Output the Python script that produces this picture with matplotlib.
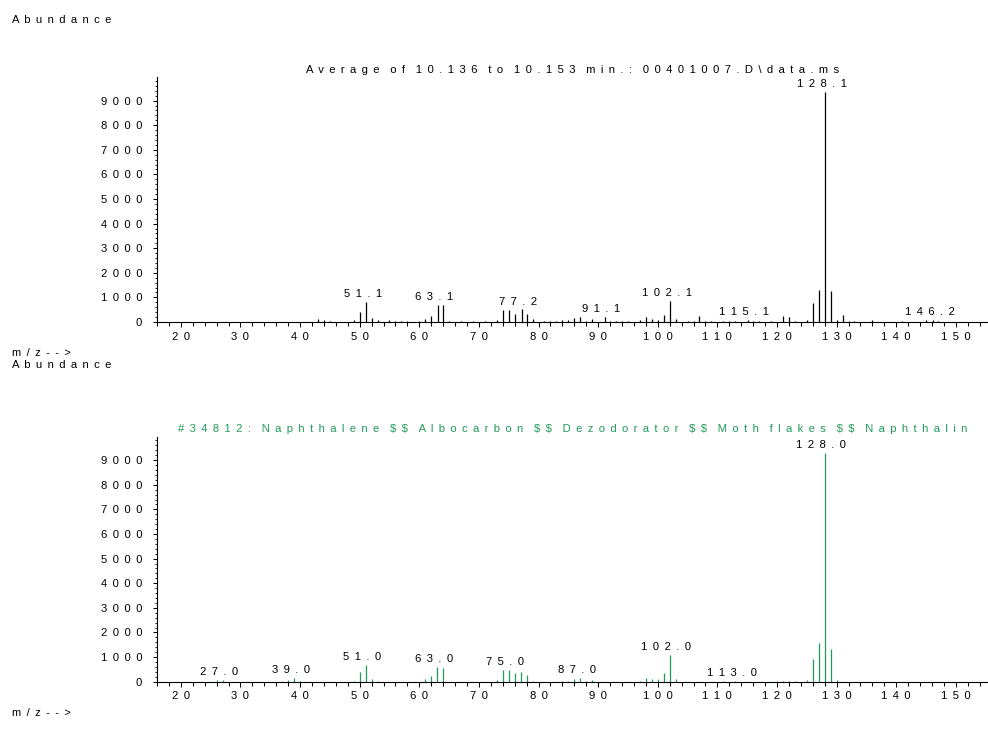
import matplotlib
matplotlib.use("Agg")
import matplotlib.pyplot as plt
from matplotlib.ticker import MultipleLocator, FuncFormatter

plt.rcParams['font.family'] = ['Liberation Sans', 'DejaVu Sans']
plt.rcParams['font.size'] = 8.1

# wide letter spacing of the instrument printout
GAP = ' \u2009'


def spaced(s):
    return (GAP * 2).join(GAP.join(w) for w in s.split(' '))


# averaged scan 10.136 - 10.153 min
scan_mz = [43, 44, 45, 49, 50, 51.1, 52, 53, 55, 56, 57, 58, 60, 61, 62, 63.1, 64, 65,
           67, 69, 71, 73, 74, 75, 76, 77.2, 78, 79, 81, 82, 83, 84, 85, 86, 87, 88,
           89, 91.1, 92, 93, 94, 95, 97, 98, 99, 100, 101, 102.1, 103, 105, 106, 107,
           108, 109, 111, 112, 113, 115.1, 116, 117, 119, 121, 122, 123, 125, 126, 127,
           128.1, 129, 130, 131, 132, 133, 136, 141, 145, 146.2, 147]
scan_ab = [140, 70, 50, 100, 410, 830, 160, 100, 80, 50, 50, 40, 40, 140, 245, 710, 680, 55,
           50, 50, 40, 95, 500, 490, 340, 517, 330, 140, 60, 50, 40, 70, 100, 180, 190, 60,
           110, 200, 40, 40, 40, 30, 80, 190, 110, 80, 270, 870, 120, 30, 40, 260,
           60, 40, 40, 40, 50, 100, 50, 50, 40, 260, 220, 50, 95, 790, 1290,
           9350, 1250, 95, 285, 40, 30, 95, 40, 95, 95, 40]
scan_labels = [51.1, 63.1, 77.2, 91.1, 102.1, 115.1, 128.1, 146.2]
scan_title = r"Average of 10.136 to 10.153 min.: 00401007.D\data.ms"

# library hit
lib_mz = [26, 27, 37, 38, 39, 40, 49, 50, 51, 52, 53, 61, 62, 63, 64, 73, 74, 75, 76, 77,
          78, 79, 84, 85, 86, 87, 88, 89, 97, 98, 99, 100, 101, 102, 103, 111, 113, 120,
          121, 122, 123, 125, 126, 127, 128, 129, 130]
lib_ab = [50, 60, 30, 55, 165, 40, 30, 380, 680, 110, 30, 120, 230, 600, 560, 70, 460, 490,
          350, 390, 285, 40, 30, 40, 110, 150, 40, 80, 30, 160, 95, 95, 340, 1090, 110,
          20, 30, 20, 20, 30, 20, 70, 920, 1580, 9310, 1345, 55]
lib_labels = [27, 39, 51, 63, 75, 87, 102, 113, 128]
lib_title = "#34812: Naphthalene $$ Albocarbon $$ Dezodorator $$ Moth flakes $$ Naphthalin"

GREEN = '#1f9b5b'

W, H = 988, 729
fig = plt.figure(figsize=(W / 100, H / 100), dpi=100)
ax1 = fig.add_axes([157 / W, 1 - 322 / H, 831 / W, 245 / H])
ax2 = fig.add_axes([157 / W, 1 - 681.7 / H, 831 / W, 245.2 / H])


def setup(ax):
    ax.spines['top'].set_visible(False)
    ax.spines['right'].set_visible(False)
    for sp in ('left', 'bottom'):
        ax.spines[sp].set_linewidth(0.8)
    ax.set_xlim(16, 155.4)
    ax.set_ylim(0, 9960)
    ax.xaxis.set_major_locator(MultipleLocator(10))
    ax.xaxis.set_minor_locator(MultipleLocator(2))
    ax.yaxis.set_major_locator(MultipleLocator(1000))
    ax.yaxis.set_minor_locator(MultipleLocator(200))
    fmt = FuncFormatter(lambda v, p: spaced(str(int(round(v)))))
    ax.xaxis.set_major_formatter(fmt)
    ax.yaxis.set_major_formatter(fmt)
    ax.tick_params(axis='x', which='major', direction='out', length=3.4, width=0.75, pad=3.5)
    ax.tick_params(axis='x', which='minor', direction='out', length=3.0, width=0.75)
    ax.tick_params(axis='y', which='major', direction='out', length=2.6, width=0.75, pad=8)
    ax.tick_params(axis='y', which='minor', direction='out', length=1.4, width=0.6)
    ax.patch.set_visible(False)


def draw(ax, mz, ab, labels, color, title, title_color):
    setup(ax)
    ax.vlines(mz, 0, ab, color=color, linewidth=0.9, snap=True)
    for m in labels:
        i = mz.index(m)
        ax.annotate(spaced(f"{m:.1f}"), (mz[i], ab[i]), xytext=(-2.5, 2),
                    textcoords='offset points', ha='center', va='bottom', color='black')
    ax.annotate(spaced(title), (0.5, 1.0), xycoords='axes fraction', xytext=(0, 1.5),
                textcoords='offset points', ha='center', va='bottom', color=title_color,
                parse_math=False)


draw(ax1, scan_mz, scan_ab, scan_labels, 'black', scan_title, 'black')
draw(ax2, lib_mz, lib_ab, lib_labels, GREEN, lib_title, GREEN)

fig.text(12 / W, 1 - 20 / H, spaced("Abundance"), ha='left', va='center')
fig.text(12 / W, 1 - 353 / H, spaced("m/z-->"), ha='left', va='center')
fig.text(12 / W, 1 - 365.5 / H, spaced("Abundance"), ha='left', va='center')
fig.text(12 / W, 1 - 713 / H, spaced("m/z-->"), ha='left', va='center')

fig.savefig("out.png", dpi=100)
